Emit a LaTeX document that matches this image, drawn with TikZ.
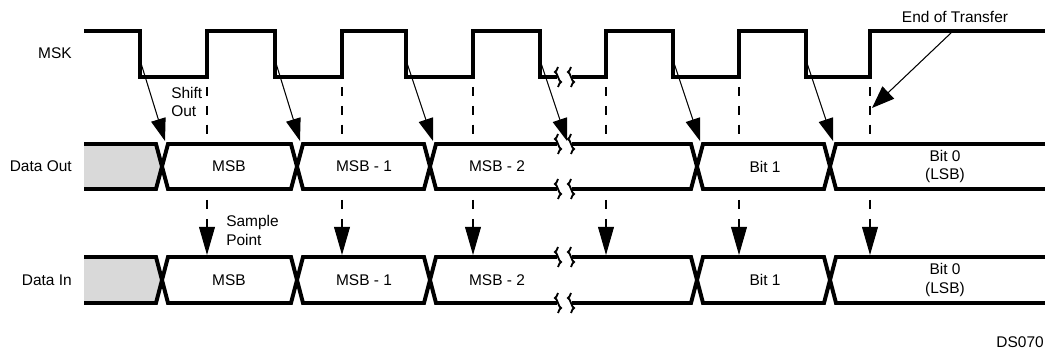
\documentclass[tikz,border=0pt]{standalone}
\usepackage{fontspec}
\setmainfont{Liberation Sans}
\usetikzlibrary{arrows.meta}

\definecolor{padgray}{gray}{0.85}

\begin{document}
\begin{tikzpicture}[x=0.025cm, y=-0.025cm,
  wave/.style={line width=2.5pt, line join=miter},
  bus/.style={line width=2.8pt, line join=miter},
  brk/.style={line width=1.3pt},
  lbl/.style={font=\fontsize{11}{13}\selectfont, inner sep=0pt},
  shiftarrow/.style={line width=0.75pt, -{Triangle[length=16pt, width=10.6pt]}},
  eotarrow/.style={line width=0.75pt, -{Triangle[length=16pt, width=12pt]}},
  marker/.style={line width=0.75pt, dash pattern=on 6.7pt off 6.7pt},
  samplearrow/.style={marker, -{Triangle[length=20pt, width=11.3pt]}}]
  \useasboundingbox (0,0) rectangle (1045,354);
  % 1. MSK
  \node[lbl, anchor=east] (msk) at (72,53) {MSK};
  \draw[wave] (84,31) -- (140,31) -- (140,77) -- (207,77) -- (207,31) -- (275,31)
    -- (275,77) -- (342,77) -- (342,31) -- (406,31) -- (406,77) -- (473,77)
    -- (473,31) -- (540,31) -- (540,77) -- (557,77);
  \draw[wave] (572,77) -- (606,77) -- (606,31) -- (673,31) -- (673,77) -- (739,77)
    -- (739,31) -- (806,31) -- (806,77) -- (870,77) -- (870,31) -- (1045,31);
  % 2. Data Out / Data In
  \node[lbl, anchor=east] (dout) at (72,166.5) {Data Out};
  \node[lbl, anchor=east] (din) at (72,280) {Data In};
  \foreach \T/\M/\B in {144/166.5/189, 257/280/303} {
    \fill[padgray] (84,\T) -- (156,\T) -- (162,\M) -- (156,\B) -- (84,\B) -- cycle;
    \draw[bus] (84,\T) -- (156,\T) -- (162,\M) -- (156,\B) -- (84,\B);
    \foreach \a/\b in {162/297, 297/430, 697/830}
      \draw[bus] (\a,\M) -- (\a+6,\T) -- (\b-6,\T) -- (\b,\M) -- (\b-6,\B) -- (\a+6,\B) -- cycle;
    \draw[bus] (557,\T) -- (436,\T) -- (430,\M) -- (436,\B) -- (557,\B);
    \draw[bus] (572,\T) -- (691,\T) -- (697,\M) -- (691,\B) -- (572,\B);
    \draw[bus] (1045,\T) -- (836,\T) -- (830,\M) -- (836,\B) -- (1045,\B);
  }
  \foreach \M/\r in {166.5/out, 280/in} {
    \node[lbl] (msb\r) at (229,\M) {MSB};
    \node[lbl] (msbi\r) at (364,\M) {MSB - 1};
    \node[lbl] (msbii\r) at (497,\M) {MSB - 2};
    \node[lbl] (biti\r) at (765,\M) {Bit 1};
    \node[lbl, align=center] (bito\r) at (945,\M) {Bit 0\\(LSB)};
  }
  % 3. break marks
  \foreach \x in {558,571}
    \foreach \y in {77,144,189,257,303}
      \draw[brk] (\x,\y-10) sin (\x-3,\y-5) cos (\x,\y) sin (\x+3,\y+5) cos (\x,\y+10);
  % 4. shift out arrows
  \foreach \f/\c [count=\i] in {140/162, 275/297, 406/430, 540/564, 673/697, 806/830} {
    \coordinate (fall\i) at (\f,60);
    \coordinate (xing\i) at (\c+3,141);
    \draw[shiftarrow] (fall\i) -- (xing\i);
  }
  \node[lbl, align=left, anchor=west] (shift) at (171,102) {Shift\\Out};
  % 5. sample points
  \foreach \r [count=\i] in {207,342,473,606,739,870} {
    \coordinate (hi\i) at (\r,87);
    \coordinate (lo\i) at (\r,135);
    \draw[marker] (hi\i) -- (lo\i);
    \coordinate (smp\i) at (\r,200);
    \coordinate (dat\i) at (\r,255);
    \draw[samplearrow] (smp\i) -- (dat\i);
  }
  \node[lbl, align=left, anchor=west] (sample) at (226,230.5) {Sample\\Point};
  % 6. end of transfer
  \node[lbl] (eot) at (955,17) {End of Transfer};
  \coordinate (eotfrom) at (952,32);
  \coordinate (eotto) at (872,108);
  \draw[eotarrow] (eotfrom) -- (eotto);
  \node[lbl, anchor=east] (dsno) at (1044,342) {DS070};
\end{tikzpicture}
\end{document}
